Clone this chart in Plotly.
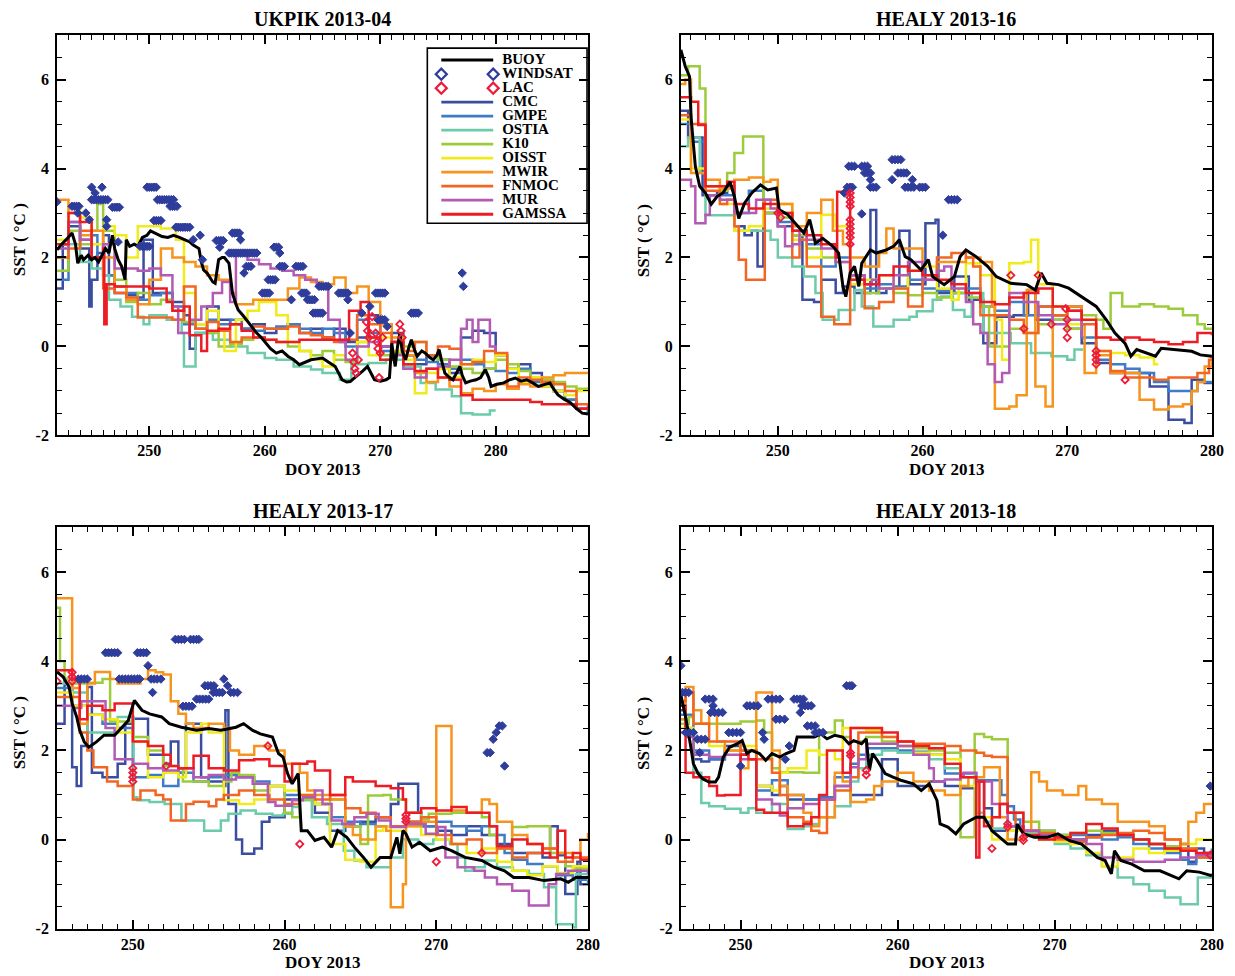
import plotly.graph_objects as go

# Positions below are given in reference pixels (1235x976). The html body adds an
# 8px margin and the captured page comes out ~1% smaller, so both are compensated.
REF_W, REF_H = 1235, 976
OFF = 8
SX, SY = 0.992, 0.990
FIG_W = round(REF_W / SX - 2 * OFF)
FIG_H = round(REF_H / SY - 2 * OFF)
FONT = "Liberation Serif"

SERIES = ["CMC", "GMPE", "OSTIA", "K10", "OISST", "MWIR", "FNMOC", "MUR", "GAMSSA"]
COLORS = {"BUOY": "#000000", "WINDSAT": "#2E3C9C", "LAC": "#EC1C3A",
          "CMC": "#3A4DA0", "GMPE": "#3F7BC6", "OSTIA": "#6CCBA8", "K10": "#9CCB3B",
          "OISST": "#F2EB1A", "MWIR": "#F7941D", "FNMOC": "#F26522", "MUR": "#B35AB5",
          "GAMSSA": "#ED1C24"}
Y_TICKS = [-2, 0, 2, 4, 6]
Y_TICKTEXT = ["-2", "0", "2", "4", "6"]
X_TICKS = [250, 260, 270, 280]

# ---------------- UKPIK 2013-04 ----------------
UKPIK_BUOY = [[242.0,2.17],[242.4,2.3],[242.8,2.4],[243.3,2.55],[243.6,2.3],[243.8,1.87],[244.1,2.05],[244.3,1.95],[244.7,2.05],[245.0,1.95],[245.3,2.0],[245.6,1.9],[245.9,2.05],[246.2,2.2],[246.5,2.1],[246.8,2.5],[247.0,2.2],[247.3,1.95],[247.6,1.8],[247.9,1.5],[248.0,2.4],[248.3,2.25],[248.7,2.3],[249.0,2.25],[249.4,2.45],[249.8,2.5],[250.1,2.6],[250.5,2.55],[251.1,2.47],[251.6,2.45],[252.1,2.5],[252.6,2.45],[253.1,2.4],[253.5,2.35],[253.8,2.28],[254.3,2.2],[254.5,1.9],[254.7,1.72],[255.0,1.65],[255.2,1.57],[255.5,1.45],[255.7,1.42],[256.0,1.95],[256.3,2.0],[256.5,2.0],[256.9,1.87],[257.2,1.2],[257.5,0.95],[257.7,0.82],[258.1,0.7],[258.4,0.6],[258.8,0.45],[259.3,0.3],[259.7,0.2],[260.1,0.07],[260.5,-0.05],[261.0,-0.15],[261.5,-0.1],[262.0,-0.22],[262.5,-0.3],[263.0,-0.41],[263.5,-0.35],[264.0,-0.3],[264.5,-0.28],[265.0,-0.26],[265.5,-0.35],[266.1,-0.45],[266.4,-0.6],[266.7,-0.75],[267.1,-0.8],[267.4,-0.79],[267.8,-0.7],[268.1,-0.64],[268.5,-0.55],[268.9,-0.45],[269.2,-0.6],[269.5,-0.75],[270.0,-0.78],[270.5,-0.75],[270.8,-0.7],[271.0,0.07],[271.2,-0.3],[271.3,-0.45],[271.5,0.0],[271.7,0.3],[271.9,-0.1],[272.2,-0.3],[272.5,0.0],[272.7,0.15],[273.0,-0.1],[273.2,-0.22],[273.6,-0.1],[273.9,-0.15],[274.3,-0.25],[274.6,-0.3],[274.9,-0.2],[275.1,-0.07],[275.3,-0.3],[275.6,-0.6],[276.0,-0.7],[276.3,-0.75],[276.6,-0.6],[276.9,-0.45],[277.1,-0.65],[277.4,-0.82],[277.8,-0.78],[278.3,-0.75],[278.7,-0.7],[279.1,-0.52],[279.4,-0.7],[279.6,-0.9],[280.1,-0.85],[280.7,-0.82],[281.2,-0.75],[281.7,-0.71],[282.2,-0.78],[282.7,-0.75],[283.2,-0.82],[283.7,-0.9],[284.2,-0.86],[284.7,-0.82],[285.0,-0.95],[285.4,-1.09],[285.9,-1.18],[286.5,-1.27],[287.0,-1.4],[287.5,-1.5],[288.0,-1.52]]
UKPIK_WINDSAT = [[242.0,3.25],[243.3,3.15],[243.5,3.15],[243.7,3.15],[243.9,3.15],[243.8,3.0],[244.5,3.0],[244.8,2.85],[245.0,3.58],[245.9,3.58],[245.3,3.45],[245.0,3.3],[245.2,3.3],[245.4,3.3],[245.6,3.3],[245.8,3.3],[246.0,3.3],[246.2,3.3],[246.4,3.3],[246.3,2.85],[246.3,2.7],[246.8,3.13],[247.0,3.13],[247.2,3.13],[247.4,3.13],[247.3,2.35],[249.2,2.25],[249.4,2.25],[249.6,2.25],[249.8,2.25],[250.0,2.25],[249.8,3.58],[250.0,3.58],[250.2,3.58],[250.4,3.58],[250.6,3.58],[250.4,2.83],[250.6,2.83],[250.8,2.83],[251.0,2.83],[250.7,3.3],[250.9,3.3],[251.1,3.3],[251.3,3.3],[251.5,3.3],[251.7,3.3],[251.9,3.3],[252.1,3.3],[251.8,3.15],[252.0,3.15],[252.2,3.15],[252.4,3.15],[252.3,2.68],[252.5,2.68],[252.7,2.68],[252.9,2.68],[253.1,2.68],[253.3,2.68],[253.5,2.68],[253.8,2.4],[254.4,2.5],[254.6,1.95],[255.8,2.38],[256.0,2.38],[256.2,2.38],[256.4,2.38],[256.1,2.23],[257.2,2.55],[257.4,2.55],[257.6,2.55],[257.8,2.55],[257.9,2.4],[256.9,2.1],[257.1,2.1],[257.3,2.1],[257.5,2.1],[257.7,2.1],[257.9,2.1],[258.1,2.1],[258.3,2.1],[258.5,2.1],[258.7,2.1],[258.9,2.1],[259.1,2.1],[259.3,2.1],[258.2,1.65],[258.4,1.8],[258.6,1.8],[258.8,1.8],[259.8,1.2],[260.0,1.2],[260.2,1.2],[260.4,1.2],[260.3,1.5],[260.5,1.5],[260.7,1.5],[260.9,1.5],[260.8,2.23],[261.0,2.23],[261.2,2.23],[261.3,2.1],[261.3,1.8],[261.5,1.8],[261.7,1.8],[262.3,1.05],[262.7,1.8],[262.9,1.8],[263.1,1.8],[263.3,1.8],[263.2,1.2],[263.4,1.2],[263.6,1.2],[263.7,1.05],[263.9,1.05],[264.1,1.05],[264.3,1.05],[264.7,1.35],[264.9,1.35],[265.1,1.35],[265.3,1.35],[265.5,1.35],[264.2,0.75],[264.4,0.75],[264.6,0.75],[264.8,0.75],[265.0,0.75],[266.4,1.2],[266.6,1.2],[266.8,1.2],[267.0,1.2],[267.2,1.2],[267.2,1.05],[267.4,0.3],[268.4,0.75],[269.1,0.9],[269.8,0.6],[270.0,0.6],[270.2,0.6],[270.4,0.6],[269.6,1.2],[269.8,1.2],[270.0,1.2],[270.2,1.2],[270.4,1.2],[270.6,0.45],[272.7,0.75],[272.9,0.75],[273.1,0.75],[273.3,0.75],[277.1,1.65],[277.2,1.35]]
UKPIK_LAC = [[267.6,-0.15],[267.7,-0.35],[267.8,-0.5],[267.9,-0.6],[268.1,-0.3],[268.8,0.55],[268.9,0.35],[269.0,0.2],[269.3,0.67],[269.6,0.3],[269.7,0.1],[269.8,-0.05],[270.0,-0.15],[269.9,-0.7],[270.2,0.2],[271.7,0.5],[271.8,0.35],[271.9,0.2]]
UKPIK_CMC = [[242,1.3],[242.5,2.3],[243,2.7],[244,2.2],[244.8,0.9],[245,1.5],[245.5,2.1],[246,2.5],[246.5,1.6],[247,1.2],[248,1.15],[249,1.1],[249.5,2.4],[250.3,1.2],[252,1.0],[253,0.7],[253.5,-0.05],[254,0.3],[255,0.9],[256,0.6],[257,0.5],[258,0.4],[259,0.5],[260,0.3],[261,0.4],[262,0.5],[263,0.3],[264,0.4],[265,0.2],[266,0.4],[267,0.1],[268,0.2],[269,0.7],[270,0.0],[271,0.3],[272,-0.2],[273,-0.4],[274,-0.2],[275,-0.3],[276,-0.6],[277,0.2],[278,0.35],[279,0.3],[280,-0.2],[281,-0.5],[282,-0.4],[283,-0.6],[284,-0.8],[285,-1.0],[286,-1.2],[287,-1.4],[288,-1.5]]
UKPIK_GMPE = [[242,1.5],[243,2.8],[244,2.4],[245,2.5],[245.5,2.0],[246,1.6],[247,1.35],[248,1.2],[249,1.05],[250,1.15],[251,1.2],[252,0.9],[253,0.5],[254,0.4],[255,0.6],[256,0.5],[257,0.6],[258,0.4],[259,0.35],[260,0.4],[261,0.45],[262,0.5],[263,0.4],[264,0.3],[265,0.4],[266,0.3],[267,0.0],[268,0.6],[269,0.3],[270,-0.1],[271,0.1],[272,-0.2],[273,-0.3],[274,-0.35],[275,-0.4],[276,-0.5],[277,-0.3],[278,-0.4],[279,-0.5],[280,-0.55],[281,-0.6],[282,-0.5],[283,-0.8],[284,-0.9],[285,-1.0],[286,-1.2],[287,-1.4],[288,-1.5]]
UKPIK_OSTIA = [[242,2.0],[243,2.3],[244,1.9],[245,1.75],[246,1.6],[246.5,1.05],[247.5,0.9],[248.5,0.67],[249.5,0.5],[250,0.7],[251.5,0.6],[252.8,0.3],[253.0,-0.45],[254.0,0.3],[255.5,0.15],[257,0.0],[258.5,-0.15],[260,-0.26],[261,-0.3],[262.5,-0.45],[264,-0.52],[265,-0.6],[266.5,-0.75],[267.5,-0.4],[269,-0.37],[270.5,-0.3],[272,-0.45],[273.5,-0.82],[274.8,-0.97],[276.2,-1.12],[277.0,-1.5],[278,-1.53],[279.5,-1.44],[280,-1.44]]
UKPIK_K10 = [[242,1.7],[243,2.6],[244,2.3],[245,2.6],[245.5,3.2],[246,2.6],[247,1.5],[248,1.0],[249,1.2],[250,0.95],[251,1.05],[252,0.8],[253,0.55],[254,0.5],[255,0.3],[256,0.0],[257,0.05],[258,0.15],[259,0.2],[260,0.15],[261,0.1],[262,0.0],[263,-0.1],[264,-0.2],[265,-0.1],[266,-0.3],[267,-0.35],[268,0.1],[269,0.2],[270,-0.2],[271,-0.15],[272,0.0],[273,0.1],[274,-0.2],[275,-0.3],[276,-0.45],[277,-0.5],[278,-0.6],[279,-0.5],[280,-0.3],[281,-0.4],[282,-0.55],[283,-0.7],[284,-0.75],[285,-0.8],[286,-0.9],[287,-0.95],[288,-0.95]]
UKPIK_OISST = [[242,2.4],[243,3.2],[244,2.9],[245,2.3],[246,2.7],[247,2.5],[248,2.0],[249,2.7],[250,2.7],[251,2.65],[252.3,2.4],[253,1.2],[254,0.5],[255,0.8],[256,0.4],[256.5,-0.1],[257.5,0.6],[258.5,0.8],[259.5,1.0],[261,0.7],[262,0.1],[263,-0.1],[264,-0.3],[265,-0.45],[266,-0.2],[267,-0.3],[268,0.1],[269,-0.2],[270,0.2],[271,-0.1],[272,-0.3],[273,-1.05],[274,-0.6],[275,-0.5],[276,-0.7],[277,-0.4],[278,-0.3],[279,-0.35],[280,-0.2],[281,-0.5],[282,-0.8],[283,-0.7],[284,-0.9],[285,-1.0],[286,-1.1],[287,-1.0],[288,-1.0]]
UKPIK_MWIR = [[242,3.3],[243,3.0],[244,2.5],[245,2.6],[246,2.0],[247,1.35],[248,1.05],[249,0.95],[250,1.5],[251,2.2],[252,2.0],[253,1.9],[254,1.8],[255,1.6],[256,1.5],[257,1.2],[257.5,0.95],[259,1.05],[260,1.05],[262,1.3],[263,1.55],[264,1.45],[265,1.4],[266,1.55],[267,1.2],[268,1.35],[269,1.0],[270,0.5],[271,0.2],[272,-0.2],[273,-0.6],[274,-0.8],[275,-0.7],[276,-0.9],[277,-1.05],[278,-0.95],[279,-1.0],[280,-0.85],[281,-0.95],[282,-0.85],[283,-0.9],[284,-0.7],[285,-0.65],[286,-0.6],[288,-0.6]]
UKPIK_FNMOC = [[242,2.0],[243,2.2],[244,2.6],[245,2.0],[246,1.3],[247,1.2],[248,1.1],[249,0.65],[250,0.65],[251,0.65],[252,0.6],[253,1.35],[254,0.4],[255,0.55],[256,0.35],[257,0.1],[258,0.2],[259,0.45],[260,0.4],[261,0.4],[262,0.45],[263,0.3],[264,0.25],[265,0.2],[266,0.1],[267,0.15],[268,0.7],[269,0.5],[270,0.3],[271,0.1],[272,-0.1],[273,0.1],[274,-0.2],[275,0.0],[276,-0.05],[277,-0.4],[278,-0.35],[279,-0.1],[280,-0.15],[281,-0.9],[282,-0.7],[283,-0.75],[284,-0.8],[285,-0.85],[286,-1.0],[287,-1.3],[288,-1.4]]
UKPIK_MUR = [[242,2.2],[243,2.8],[244,2.4],[245,2.0],[246,2.3],[247,1.75],[248,1.75],[249,1.7],[250,1.75],[251,1.6],[252,0.9],[252.5,0.3],[253.5,0.6],[254.5,0.9],[255.5,1.2],[256.3,1.45],[257,1.0],[257.5,2.1],[258.5,1.95],[259.5,1.85],[260.5,1.75],[261.5,1.7],[262.5,1.6],[263.5,1.5],[264.5,1.4],[265.5,0.6],[266.5,0.1],[267,-0.3],[268,0.0],[269,0.1],[270,0.0],[271,-0.2],[272,-0.5],[273,-0.7],[274,-0.5],[275,-0.45],[276,-0.3],[277,0.4],[277.5,0.6],[278,0.1],[278.5,0.6],[279.5,0.0],[280,-0.1]]
UKPIK_GAMSSA = [[242,2.3],[243,3.0],[244,2.8],[245,2.0],[246,2.2],[246.1,0.5],[246.3,1.4],[247,1.35],[248,1.35],[249,1.35],[250,1.3],[251.5,1.0],[252,0.8],[253,0.9],[253.5,0.25],[254.5,-0.1],[255,0.35],[256,0.4],[257,0.5],[258,0.35],[259,0.2],[260,0.15],[261,0.1],[262,0.1],[263,0.15],[264,0.15],[265,0.15],[266,0.15],[267.3,0.8],[268.3,1.0],[269,0.2],[270,-0.3],[271,0.1],[272,-0.4],[273,-0.55],[274,-0.5],[275,-0.7],[276,-0.75],[277,-1.1],[278,-1.2],[280,-1.2],[282,-1.2],[283,-1.25],[284,-1.3],[285.5,-1.3],[287,-1.4],[288,-1.35]]

# ---------------- HEALY 2013-16 ----------------
HEALY16_BUOY = [[243.3,6.67],[243.6,6.3],[243.9,6.07],[244.0,5.17],[244.3,4.05],[244.6,3.6],[245.0,3.45],[245.4,3.2],[245.8,3.37],[246.2,3.45],[246.7,3.7],[247.0,3.37],[247.3,2.88],[247.7,3.22],[248.2,3.45],[248.8,3.63],[249.3,3.52],[249.9,3.56],[250.1,3.07],[250.7,2.96],[251.2,2.77],[251.8,2.55],[252.2,2.85],[252.6,2.32],[253.1,2.43],[253.8,2.25],[254.2,2.1],[254.5,1.35],[254.7,1.12],[255.0,1.65],[255.3,1.8],[255.6,1.35],[255.8,1.87],[256.4,2.17],[256.8,2.1],[257.5,2.17],[258.0,2.25],[258.4,2.4],[258.8,2.02],[259.2,1.95],[259.9,1.72],[260.4,1.95],[260.7,1.57],[261.5,1.39],[262.2,1.57],[262.6,2.02],[263.0,2.17],[263.7,2.02],[264.5,1.8],[265.1,1.57],[266.1,1.42],[267.2,1.39],[267.8,1.27],[268.2,1.65],[268.6,1.42],[269.4,1.39],[270.1,1.31],[270.6,1.2],[271.3,1.05],[272.0,0.9],[272.7,0.6],[273.3,0.3],[274.0,0.07],[274.4,-0.22],[274.8,-0.07],[275.5,-0.15],[276.1,-0.22],[276.5,-0.04],[277.5,-0.07],[278.6,-0.11],[279.2,-0.19],[280.0,-0.22]]
HEALY16_WINDSAT = [[254.6,3.45],[254.8,3.58],[255.0,3.58],[255.15,3.58],[254.9,4.05],[255.1,4.05],[255.3,4.05],[255.8,2.98],[255.8,4.05],[256.0,4.05],[256.2,4.05],[256.0,3.9],[256.2,3.9],[256.4,3.9],[256.4,3.75],[256.4,3.58],[256.6,3.58],[256.8,3.58],[257.9,4.2],[258.1,4.2],[258.3,4.2],[258.5,4.2],[257.9,3.75],[258.3,3.9],[258.5,3.9],[258.7,3.9],[258.9,3.9],[259.3,3.75],[258.8,3.58],[259.0,3.58],[259.2,3.58],[259.4,3.58],[259.8,3.58],[260.0,3.58],[260.2,3.58],[261.4,2.5],[261.8,3.3],[262.0,3.3],[262.2,3.3],[262.4,3.3]]
HEALY16_LAC = [[255.0,3.45],[255.0,3.35],[255.0,3.25],[255.0,3.15],[255.0,2.85],[255.0,2.75],[255.0,2.65],[255.0,2.55],[255.0,2.45],[255.0,2.3],[250.0,3.0],[250.2,2.9],[266.1,1.6],[267.0,0.4],[268.0,1.6],[268.9,0.5],[269.9,0.85],[270.0,0.6],[270.0,0.4],[270.0,0.2],[272.0,-0.1],[272.0,-0.2],[272.0,-0.3],[272.0,-0.4],[274.0,-0.75]]
HEALY16_CMC = [[243.3,5.3],[243.8,4.7],[244.8,3.4],[245.8,3.45],[246.5,3.6],[247,2.7],[247.7,2.5],[248.2,2.6],[248.6,1.8],[249.0,3.0],[250,2.7],[251,2.5],[251.7,1.05],[252.5,1.0],[253,1.5],[254,1.2],[254.5,1.35],[255.3,1.2],[256.4,3.07],[256.8,1.2],[257.5,1.3],[258.4,2.6],[259.1,1.4],[260.2,2.77],[260.9,2.85],[261.1,1.2],[262.2,1.57],[263.2,1.05],[264.2,0.07],[265.1,0.67],[266.3,0.7],[267.3,1.27],[267.8,0.6],[269,0.7],[270,0.9],[271,0.07],[272,-0.37],[273,-0.6],[274,-0.6],[275.7,-0.9],[277,-1.65],[278.1,-1.72],[278.6,-0.75],[279.5,-0.82],[280,-0.82]]
HEALY16_GMPE = [[243.3,5.0],[244.0,4.6],[245.0,3.6],[246.0,3.4],[247.0,3.0],[248.0,3.5],[249.0,3.0],[250.0,2.8],[251.0,2.6],[252.0,2.3],[253.0,1.8],[254.0,2.0],[255.0,1.6],[256.0,1.3],[257.0,1.4],[258.0,1.35],[259.0,1.5],[260.0,1.3],[261.0,1.25],[262.0,1.2],[263.0,1.3],[264.0,0.9],[265.0,0.8],[266.0,1.0],[267.0,0.7],[268.0,0.9],[269.0,0.6],[270.0,0.4],[271.0,0.2],[272.0,-0.3],[273.0,-0.4],[274.0,-0.5],[275.0,-0.6],[276.0,-0.8],[277.0,-1.0],[278.0,-1.0],[279.0,-0.8],[280.0,-0.8]]
HEALY16_OSTIA = [[243.3,4.5],[243.8,4.7],[244.6,3.9],[245.0,2.95],[247.0,2.6],[248.5,2.6],[249.5,2.4],[250,2.0],[251,1.8],[251.8,1.57],[252.6,1.2],[253.1,0.6],[254.2,0.82],[255.3,1.27],[255.8,0.9],[256.6,0.45],[258,0.6],[259.1,0.67],[259.6,0.79],[260.7,1.05],[261.3,1.12],[262.1,0.82],[262.9,0.67],[263.4,1.2],[264.2,0.3],[266.1,0.07],[267.5,-0.15],[268.9,-0.22],[270,-0.3],[270.5,-0.07],[271,-0.1]]
HEALY16_K10 = [[243.3,6.1],[243.8,6.3],[244.6,5.8],[245.0,3.6],[246.0,3.5],[246.5,3.9],[247.0,4.35],[247.6,4.72],[249.0,3.0],[250.0,2.9],[251.0,2.5],[252.0,2.2],[253.0,2.0],[254.0,1.9],[255.0,1.5],[256.0,1.2],[257.0,1.3],[258.0,1.2],[259.0,1.15],[260.0,1.2],[261.0,1.1],[262.0,1.2],[263.0,1.1],[264.0,0.9],[264.6,0.0],[266.0,0.4],[267.0,0.3],[268.0,0.5],[269.0,0.6],[270.0,0.4],[271.0,0.7],[272.0,0.6],[272.5,0.4],[273.0,1.2],[273.8,0.9],[275.0,0.95],[276.0,0.9],[277.0,0.85],[278.0,0.7],[279.0,0.5],[279.5,0.4],[280.0,0.4]]
HEALY16_OISST = [[243.3,5.1],[244.0,4.0],[245.0,3.6],[246.0,3.2],[247.0,2.6],[248.0,2.7],[249.0,3.1],[250.0,3.2],[251.0,2.4],[252.0,2.0],[253.0,2.96],[254.0,2.7],[255.0,1.4],[256.0,1.5],[257.0,1.6],[258.0,1.3],[259.0,1.7],[260.0,1.8],[261.0,1.3],[262.0,1.05],[262.5,1.3],[263.0,1.87],[264.0,1.6],[265.0,0.6],[265.5,-0.3],[266.0,1.87],[267.0,1.9],[267.5,2.4],[268.0,1.4],[269.0,0.9],[270.0,0.5],[271.0,0.6],[272.0,-0.1],[273.0,-0.15],[274.0,-0.2],[275.0,-0.25],[276.0,-0.4],[276.3,-0.4]]
HEALY16_MWIR = [[243.3,5.9],[243.6,6.0],[244.0,3.9],[245.0,3.75],[246.0,3.55],[247.0,3.75],[248.0,3.8],[249.0,3.7],[249.5,3.75],[250.0,3.2],[251.0,2.7],[252.0,3.0],[253.0,3.3],[253.8,2.6],[254.5,2.3],[255.0,2.0],[256.0,1.8],[257.0,2.1],[257.5,2.65],[258.0,2.2],[259.0,2.2],[260.0,1.6],[261.0,1.9],[262.0,1.9],[263.0,2.0],[264.0,1.9],[264.8,0.9],[265.0,-1.4],[266.0,-1.35],[266.5,-1.1],[267.2,1.27],[267.8,-0.9],[268.5,-1.35],[269.0,0.7],[270.0,0.9],[271.0,0.5],[271.2,-0.6],[272.0,-0.2],[273.0,-0.6],[274.0,-0.6],[275.0,-1.2],[276.0,-1.42],[277.0,-1.35],[278.0,-1.3],[278.6,-1.0],[279.0,-0.8],[279.5,-0.45],[280.0,-0.3]]
HEALY16_FNMOC = [[243.3,5.2],[244.0,5.0],[245.0,3.5],[246.0,3.2],[246.5,3.3],[247.0,2.7],[247.3,1.95],[247.8,1.5],[249.1,3.3],[250.0,3.0],[251.0,2.0],[251.5,2.4],[252.0,1.8],[253.0,0.67],[253.9,0.5],[255.0,1.6],[256.0,0.86],[257.0,1.0],[258.0,1.3],[259.0,0.9],[260.0,1.5],[261.0,2.0],[262.0,2.1],[263.0,2.0],[263.5,1.8],[264.0,0.7],[265.0,0.7],[266.0,0.6],[267.0,0.3],[268.0,0.9],[269.0,0.7],[270.0,0.8],[271.0,0.5],[272.0,-0.1],[273.0,-0.55],[274.0,-0.7],[275.0,-0.7],[276.0,-0.75],[277.0,-0.7],[278.0,-0.7],[279.0,-0.6],[279.8,-0.3],[280.0,-0.2]]
HEALY16_MUR = [[243.3,3.75],[244.0,3.6],[244.3,2.77],[245.0,2.96],[245.3,3.4],[246.0,3.3],[247.0,3.0],[248.0,3.0],[248.5,3.3],[249.5,3.1],[250.0,2.7],[250.5,2.25],[251.0,2.3],[251.5,2.6],[252.0,2.4],[253.0,2.2],[254.0,1.9],[255.0,1.6],[256.0,1.4],[256.5,1.5],[257.0,1.3],[258.0,1.6],[259.0,1.9],[260.0,1.5],[261.0,1.7],[261.5,1.8],[262.0,1.3],[263.0,1.0],[263.5,0.5],[264.0,0.3],[264.5,-0.4],[265.0,-0.8],[265.5,-0.6],[266.0,1.2],[267.0,1.0],[268.0,0.7],[269.0,0.5],[270.0,0.6],[271.0,0.2]]
HEALY16_GAMSSA = [[243.3,5.6],[244.0,5.5],[244.5,4.98],[245.0,3.6],[246.0,3.6],[246.5,3.7],[247.0,3.2],[248.0,3.1],[249.0,3.2],[250.0,3.0],[251.0,2.6],[252.0,2.5],[253.0,2.3],[254.0,2.0],[254.1,3.48],[255.0,1.5],[256.0,1.4],[257.0,1.6],[258.0,1.8],[259.0,1.7],[260.0,1.6],[261.0,1.5],[262.0,1.4],[263.0,1.2],[264.0,1.0],[265.0,0.95],[266.0,1.1],[267.0,1.2],[268.0,1.3],[269.0,0.9],[270.0,0.8],[271.0,0.6],[272.0,0.2],[273.0,0.15],[274.0,0.2],[275.0,0.15],[276.0,0.1],[277.0,0.05],[278.0,0.1],[279.0,0.3],[280.0,0.25]]

# ---------------- HEALY 2013-17 ----------------
HEALY17_BUOY = [[245.0,3.76],[245.4,3.65],[245.8,3.42],[246.0,3.05],[246.3,2.75],[246.5,2.45],[246.8,2.19],[247.1,2.07],[247.6,2.19],[248.1,2.34],[248.8,2.34],[249.3,2.52],[249.7,2.67],[250.1,3.12],[250.6,2.9],[251.1,2.82],[251.9,2.75],[252.4,2.6],[253.2,2.52],[254.2,2.45],[255.0,2.49],[255.8,2.45],[256.8,2.52],[257.3,2.6],[257.9,2.45],[258.4,2.37],[259.2,2.3],[259.6,1.93],[259.9,1.85],[260.2,1.48],[260.5,1.25],[260.9,1.48],[261.1,0.2],[261.5,0.2],[262.0,-0.02],[262.6,0.05],[263.1,-0.17],[263.5,0.2],[264.1,0.05],[264.6,-0.17],[265.2,-0.4],[265.7,-0.62],[266.3,-0.4],[267.0,-0.4],[267.4,0.05],[267.6,-0.32],[267.8,0.2],[268.0,0.13],[268.4,-0.17],[268.9,-0.06],[269.6,-0.25],[270.4,-0.17],[271.0,-0.25],[271.9,-0.4],[273.0,-0.47],[273.8,-0.62],[274.5,-0.7],[275.1,-0.85],[276.1,-0.85],[277.1,-0.92],[278.2,-0.88],[278.7,-0.96],[279.2,-0.85],[280.0,-0.85]]
HEALY17_WINDSAT = [[246.4,3.6],[246.6,3.6],[246.8,3.6],[247.0,3.6],[248.2,4.19],[248.4,4.19],[248.6,4.19],[248.8,4.19],[249.0,4.19],[249.1,3.6],[249.3,3.6],[249.5,3.6],[249.7,3.6],[249.9,3.6],[250.1,3.6],[250.3,3.6],[250.45,3.6],[250.3,4.19],[250.5,4.19],[250.7,4.19],[250.9,4.19],[251.0,3.9],[251.2,3.6],[251.4,3.6],[251.6,3.6],[251.85,3.6],[251.3,3.3],[252.8,4.49],[253.0,4.49],[253.2,4.49],[253.4,4.49],[253.3,2.99],[253.5,2.99],[253.7,2.99],[253.9,2.99],[253.8,4.49],[254.0,4.49],[254.2,4.49],[254.35,4.49],[254.2,3.15],[254.4,3.15],[254.6,3.15],[254.8,3.15],[255.0,3.15],[254.75,3.45],[254.95,3.45],[255.15,3.45],[255.35,3.45],[255.3,3.3],[255.5,3.3],[255.7,3.3],[255.9,3.3],[256.0,3.6],[256.25,3.45],[256.45,3.3],[256.65,3.3],[256.9,3.3],[273.35,1.95],[273.55,1.95],[273.75,2.25],[273.95,2.4],[274.15,2.55],[274.35,2.55],[274.5,1.65]]
HEALY17_LAC = [[245.0,3.55],[246.0,3.75],[246.0,3.65],[246.0,3.55],[250.0,1.6],[250.0,1.5],[250.0,1.4],[250.0,1.3],[252.2,1.65],[258.9,2.1],[261.0,-0.1],[268.0,0.55],[268.0,0.47],[268.0,0.4],[270.0,-0.5],[273.0,-0.3]]
HEALY17_CMC = [[245,2.6],[245.5,3.6],[246.0,1.62],[246.3,1.2],[246.6,2.1],[247.0,3.42],[247.3,1.5],[248,1.4],[249,1.7],[249.5,2.6],[250,2.71],[251,1.9],[252,1.7],[252.5,2.2],[253,1.5],[253.5,2.6],[254.5,1.4],[255,1.3],[256,1.2],[256.1,2.9],[256.3,0.8],[256.8,0.0],[257.2,-0.32],[258,-0.2],[258.5,0.4],[259,0.5],[260,0.9],[261,0.9],[262,0.6],[263,0.2],[264,0.3],[265,0.4],[266,0.5],[267,0.8],[267.5,1.25],[268.8,0.6],[269,0.3],[270,0.2],[271,0.1],[272,0.3],[273,0.1],[274,-0.1],[275,-0.3],[276,-0.3],[277,-0.4],[277.5,0.3],[278,-0.35],[278.5,-1.22],[279.3,-0.5],[279.5,-1.0],[280,-1.0]]
HEALY17_GMPE = [[245,3.4],[246,3.0],[247,2.8],[248,2.6],[249,2.5],[250,1.4],[251,1.45],[252,1.2],[253,1.5],[254,1.3],[255,1.4],[256,1.45],[257,1.4],[258,1.3],[259,1.2],[260,1.0],[261,0.9],[262,0.8],[263,0.5],[264,0.4],[265,0.35],[266,0.3],[267,0.3],[268,0.4],[269,0.3],[270,0.4],[271,0.3],[272,0.2],[273,0.3],[274,0.1],[274.5,-0.3],[275,-0.45],[276,-0.55],[277,-0.6],[278,-0.8],[279,-0.9],[280,-1.0]]
HEALY17_OSTIA = [[245,3.5],[246,3.3],[247,2.4],[249,2.75],[250.05,0.95],[250.3,0.88],[251.1,0.84],[252.1,0.8],[253.2,0.43],[254.2,0.43],[254.7,0.2],[255.8,0.43],[256.3,0.58],[257.1,0.65],[258.1,0.58],[259.2,0.54],[259.9,0.58],[260.5,0.73],[261.0,0.88],[261.8,0.5],[262.8,0.35],[263.9,-0.25],[264.6,-0.47],[265.4,-0.62],[266.2,-0.62],[267.0,-0.4],[267.8,0.0],[268.8,-0.1],[269.8,0.0],[270.9,-0.1],[271.4,-0.4],[271.9,-0.7],[272.4,-0.62],[273.2,-0.47],[274.0,-0.62],[275.05,-0.7],[276.1,-0.77],[277.1,-1.07],[277.9,-1.9],[279.0,-1.97],[279.2,-0.77],[280,-0.92]]
HEALY17_K10 = [[245,5.2],[245.2,4.0],[245.5,3.6],[246,3.5],[247,3.52],[248,3.6],[248.5,2.65],[249,2.65],[250,2.3],[251,2.0],[252,1.65],[253,1.6],[253.3,1.3],[255,1.2],[256,1.3],[256.5,1.5],[257,1.45],[258,1.1],[259,1.2],[260,0.6],[260.5,0.5],[261,0.9],[262,0.8],[263,0.9],[264,0.3],[265,-0.1],[265.5,0.99],[266.5,1.0],[267,0.9],[268,0.6],[269,0.45],[269.5,0.58],[271,0.6],[272,0.6],[273,0.5],[273.5,0.1],[274,-0.2],[275,0.28],[276,0.3],[277,0.3],[277.5,-0.3],[278.5,-0.6],[279,-0.65],[280,-0.6]]
HEALY17_OISST = [[245,3.3],[246,3.0],[247,2.8],[248,2.7],[249,2.4],[250,2.2],[251,1.4],[252,1.5],[253,1.4],[253.5,2.4],[254.5,2.6],[255,2.4],[256,0.88],[257,0.8],[258,0.9],[259,1.2],[260,1.1],[261,1.0],[262,0.8],[263,-0.1],[264,-0.45],[265,-0.5],[266,0.2],[266.5,0.3],[267,0.2],[268,0.3],[269,0.1],[270,0.0],[271,-0.1],[272,-0.3],[273,-0.2],[274,-0.5],[275,-0.7],[276,-0.8],[277,-0.6],[278,-0.75],[279,-0.6],[280,-0.6]]
HEALY17_MWIR = [[245,5.41],[246.0,3.4],[246.5,2.6],[247,3.5],[247.5,3.76],[248.5,3.6],[249,3.5],[250.5,3.6],[251,3.8],[251.5,3.75],[252,3.7],[252.5,3.1],[253,2.82],[253.5,2.6],[254,2.5],[255,2.6],[256,2.5],[256.4,2.0],[257,1.9],[258,2.1],[259,2.0],[260,1.7],[261,1.5],[261.5,1.1],[262,1.0],[263,0.9],[264,0.3],[264.5,0.1],[265,0.0],[266,0.3],[266.7,0.2],[267.0,-1.52],[267.8,-1.0],[268,0.3],[269,0.4],[270,2.55],[271,0.65],[272,0.6],[273,0.9],[273.5,0.8],[274,0.4],[275,0.1],[276,-0.1],[277,-0.2],[278,-0.3],[279,-0.4],[279.5,0.0],[280,0.15]]
HEALY17_FNMOC = [[245,3.2],[246,3.2],[246.5,2.4],[247,2.0],[247.4,1.62],[248.3,1.3],[249,1.2],[250,0.9],[250.5,1.1],[251.5,1.0],[252,0.9],[252.5,0.43],[253.5,0.8],[254,0.85],[255,0.75],[255.5,0.9],[256,1.0],[257,1.1],[258,1.0],[259,0.9],[260,0.8],[261,1.0],[262,0.9],[263,1.0],[264,0.7],[265,0.6],[266,0.5],[267,0.3],[268,0.4],[269,0.5],[270,0.1],[271,-0.1],[272,0.0],[273,-0.3],[274,-0.2],[275,-0.4],[276,-0.3],[277,-0.2],[278,-0.5],[279,-0.4],[280,-0.5]]
HEALY17_MUR = [[245,3.0],[246,2.95],[246.6,3.1],[247.5,3.1],[248.2,2.5],[248.8,1.8],[250,1.7],[251,1.6],[252,1.55],[253,1.6],[254,1.4],[255,1.45],[256,1.35],[256.8,1.4],[257.9,1.25],[258.9,0.84],[259.4,0.76],[260.5,0.88],[261.2,0.95],[262.0,1.1],[262.5,0.8],[263.1,0.43],[263.8,0.35],[264.6,0.5],[265.4,0.58],[266.2,0.43],[267.0,0.28],[268.0,0.35],[269.3,0.13],[270.1,0.28],[270.6,-0.4],[271.4,-0.62],[272.5,-0.7],[273.2,-0.85],[274.0,-1.0],[275.0,-1.15],[276.1,-1.48],[276.9,-1.48],[277.4,-1.0],[277.9,-0.77],[278.7,-0.7],[280,-0.77]]
HEALY17_GAMSSA = [[245,3.8],[246,3.6],[246.5,2.7],[247,3.0],[248,2.9],[248.8,3.05],[250,2.2],[251,2.1],[252,1.9],[252.5,1.65],[253,1.6],[254,1.88],[255,1.6],[256,1.55],[257,1.78],[258,1.8],[259,1.65],[260,1.3],[260.5,1.7],[261.5,1.75],[262,1.55],[263,1.0],[264,1.4],[264.5,1.3],[265,1.3],[266,1.2],[267,1.15],[267.8,0.9],[268,0.6],[269,0.7],[270,0.65],[271,0.73],[272,0.6],[273,0.6],[273.5,0.3],[274,-0.15],[275,0.0],[276,-0.1],[277,-0.3],[277.5,-0.4],[278,0.2],[278.5,-0.4],[279,-0.3],[279.5,-0.45],[280,-0.45]]

# ---------------- HEALY 2013-18 ----------------
HEALY18_BUOY = [[246.2,3.24],[246.5,2.75],[246.8,2.15],[247.0,1.7],[247.3,1.48],[247.6,1.36],[248.0,1.29],[248.4,1.29],[248.6,1.4],[248.9,1.85],[249.3,2.07],[249.8,2.15],[250.1,2.22],[250.4,1.93],[250.7,2.0],[251.2,1.93],[251.6,1.78],[252.0,1.93],[252.5,1.85],[252.9,1.93],[253.4,2.0],[253.6,2.3],[254.1,2.3],[254.7,2.3],[255.1,2.37],[255.5,2.26],[256.0,2.34],[256.5,2.3],[256.9,2.15],[257.2,2.22],[257.7,2.15],[258.0,2.26],[258.2,1.55],[258.4,1.93],[258.7,1.78],[259.2,1.48],[259.7,1.4],[260.2,1.33],[261.0,1.25],[261.5,1.1],[262.0,1.25],[262.5,0.88],[262.7,0.35],[263.2,0.28],[263.7,0.13],[264.2,0.35],[265.0,0.5],[265.5,0.5],[266.0,0.2],[266.5,0.05],[267.0,-0.1],[267.5,-0.1],[267.6,0.35],[268.0,0.13],[268.7,0.05],[269.5,0.05],[270.2,0.13],[270.9,-0.02],[271.7,-0.1],[272.2,-0.25],[272.7,-0.4],[273.2,-0.47],[273.6,-0.77],[273.8,-0.25],[274.2,-0.47],[274.9,-0.55],[275.7,-0.7],[276.7,-0.7],[277.4,-0.81],[277.9,-0.88],[278.4,-0.7],[279.2,-0.73],[280.0,-0.81]]
HEALY18_WINDSAT = [[246.2,3.9],[246.3,3.3],[246.5,3.3],[246.7,3.3],[246.5,2.4],[246.75,2.4],[247.0,2.4],[247.25,2.25],[247.5,2.25],[247.75,2.25],[247.4,1.95],[247.75,3.15],[248.0,3.15],[248.25,3.15],[248.25,3.0],[248.1,2.85],[248.35,2.85],[248.6,2.85],[248.85,2.85],[249.25,2.4],[249.5,2.4],[249.75,2.4],[250.0,2.4],[250.0,1.65],[250.4,3.0],[250.6,3.0],[250.85,3.0],[251.1,3.0],[251.4,2.4],[251.5,2.25],[251.75,3.15],[252.0,3.15],[252.25,3.15],[252.5,3.15],[252.25,2.7],[252.5,2.7],[252.8,2.7],[252.85,1.8],[253.1,2.1],[253.4,3.15],[253.6,3.15],[253.8,3.15],[254.0,3.15],[253.9,3.0],[254.1,3.0],[254.3,3.0],[254.5,3.0],[253.8,2.85],[254.25,2.55],[254.5,2.55],[254.75,2.55],[254.75,2.4],[255.0,2.4],[255.25,2.4],[256.75,3.45],[256.95,3.45],[257.1,3.45],[279.9,1.2]]
HEALY18_LAC = [[257.0,1.95],[257.0,1.88],[258.0,1.55],[258.0,1.45],[266.0,-0.2],[267.0,0.35],[267.0,0.28],[268.0,0.05],[268.0,-0.02],[279.9,-0.35]]
HEALY18_CMC = [[246.2,2.9],[246.5,2.4],[247,1.8],[247.5,1.75],[248,1.8],[249,2.1],[250,1.9],[250.5,2.0],[251,1.2],[252,1.0],[252.5,1.2],[253,0.9],[254,0.9],[255,0.9],[256,1.2],[257,1.0],[258,1.0],[259,1.8],[260,1.2],[261,1.2],[262,1.3],[263,1.2],[264,1.15],[265,1.3],[265.5,0.7],[266,0.2],[267,0.3],[268,0.2],[269,0.1],[270,0.05],[271,0.0],[272,0.1],[273,0.2],[274,0.1],[275,0.0],[276,-0.1],[277,-0.2],[278,-0.1],[278.5,-0.5],[279,-0.2],[279.5,-0.3],[280,-0.3]]
HEALY18_GMPE = [[246.2,2.8],[247,2.0],[248,1.8],[249,2.0],[250,2.0],[251,1.1],[252,1.33],[253,1.0],[254,0.9],[255,0.95],[256,1.4],[257,1.7],[257.5,1.9],[258,2.05],[260,2.0],[261,1.97],[262,1.9],[263,1.48],[264,1.48],[265,1.33],[266.2,1.33],[266.6,1.0],[267.0,0.75],[267.4,0.45],[267.8,0.2],[268.2,0.1],[269,0.2],[270,0.1],[271,0.1],[272,0.05],[273,0.0],[274,0.05],[275,-0.1],[276,-0.2],[277,-0.3],[278,-0.45],[278.5,-0.55],[279,-0.4],[280,-0.2]]
HEALY18_OSTIA = [[246.2,2.7],[246.6,2.5],[247,1.5],[247.5,0.82],[248,0.75],[249,0.69],[250,0.6],[250.5,0.7],[251,0.6],[252,0.8],[253,0.24],[254,0.3],[254.5,0.35],[255,0.5],[256,0.75],[257,1.3],[257.5,1.6],[258,1.9],[259,2.0],[260,1.95],[261,1.9],[262,1.8],[263,1.6],[264,1.4],[265,0.6],[265.5,0.4],[266,0.25],[267,0.2],[268,0.15],[269,0.05],[270,-0.1],[271,-0.2],[272,-0.35],[273,-0.6],[274,-0.85],[275,-1.0],[276,-1.15],[277,-1.3],[278,-1.45],[278.9,-1.45],[279.1,-0.85],[280,-0.75]]
HEALY18_K10 = [[246.2,2.6],[246.7,2.75],[247,2.6],[250,2.65],[251,2.67],[251.5,2.4],[252,1.6],[252.5,1.51],[254,1.5],[255,2.4],[256,2.67],[256.5,2.3],[257,2.2],[258,2.3],[259,2.2],[260,2.1],[261,2.05],[262,2.0],[263,1.95],[264,0.05],[264.9,2.37],[265.5,2.3],[266,2.25],[267,0.6],[268,0.4],[269,0.2],[270,0.1],[271,0.15],[272,0.2],[273,0.15],[274,0.1],[275,0.0],[276,-0.1],[277,-0.15],[278,-0.2],[279,-0.4],[280,-0.3]]
HEALY18_OISST = [[246.2,2.5],[247,2.2],[248,2.1],[249,2.0],[250,2.1],[251,1.2],[252,1.1],[252.5,1.5],[253,1.6],[254.2,2.0],[255,1.9],[255.5,2.0],[256,1.8],[256.5,2.5],[258,2.45],[259,2.3],[260,2.1],[261,1.95],[262,1.9],[263,1.8],[264,1.2],[265,0.5],[266,0.0],[267,0.2],[268,0.1],[269,0.0],[270,-0.05],[271,-0.1],[272,-0.3],[273,-0.6],[274,-0.4],[275,-0.2],[276,-0.3],[277,-0.25],[278,-0.1],[279,0.0],[280,0.0]]
HEALY18_MWIR = [[246.2,2.7],[246.5,3.42],[247,2.9],[247.5,2.6],[248,2.85],[248.5,2.2],[249,2.0],[250,1.6],[250.5,1.8],[251,3.3],[252,2.0],[252.5,1.2],[253,1.0],[254,0.6],[254.5,0.3],[255,0.5],[256,1.5],[256.5,1.3],[257,0.84],[258,0.9],[258.5,1.2],[259,1.3],[260,1.5],[261,1.3],[262,1.1],[263,1.0],[264,1.2],[264.5,1.4],[265.5,1.62],[266.5,0.5],[267,0.0],[268,0.2],[268.5,1.51],[269,1.3],[269.5,1.1],[270.5,1.0],[271.5,1.2],[272,0.9],[273,0.8],[274,0.4],[275,0.4],[276,0.3],[277,0.0],[278,-0.1],[278.5,0.4],[279,0.6],[279.5,0.8],[280,0.8]]
HEALY18_FNMOC = [[246.2,3.1],[246.5,3.3],[247,2.6],[248,2.2],[249,2.2],[250,2.0],[251,1.8],[252,1.5],[252.5,1.0],[253,0.5],[254,0.4],[254.5,0.2],[255,0.15],[255.5,0.9],[256,1.1],[257,1.4],[257.5,2.4],[258,2.4],[259,2.3],[260,2.2],[261,2.15],[262,2.15],[263,2.1],[264,2.0],[265,1.95],[265.5,1.88],[266,1.85],[267,0.6],[267.5,0.3],[268,0.2],[269,0.15],[270,0.0],[271,-0.05],[272,0.05],[273,0.1],[274,0.15],[275,0.2],[276,0.15],[277,0.0],[278,-0.2],[279,-0.4],[280,-0.35]]
HEALY18_MUR = [[246.2,2.4],[246.6,2.3],[247,1.9],[248,1.85],[249,1.9],[250,1.8],[251,0.9],[252,0.8],[252.5,0.54],[253,0.7],[254,0.8],[255,0.9],[256,1.2],[257,1.62],[257.5,1.8],[258,2.15],[260,2.1],[261,1.9],[262,1.6],[262.3,1.3],[263,1.35],[264,1.45],[264.2,1.5],[265,1.3],[266,0.8],[267,0.3],[268,0.2],[269,0.1],[270,0.05],[271,0.0],[272,-0.1],[273,-0.4],[274,-0.45],[275,-0.5],[276,-0.5],[277,-0.45],[278,-0.4],[279,-0.35],[280,-0.4]]
HEALY18_GAMSSA = [[246.2,3.0],[246.5,1.5],[247,1.4],[248,1.2],[248.5,0.99],[249,1.0],[250,1.9],[250.5,1.8],[251,0.67],[251.5,0.6],[252,0.6],[253,0.3],[254,0.35],[254.5,0.5],[255,1.0],[255.5,2.0],[256,2.0],[256.5,1.5],[257,2.5],[258,2.5],[259,2.4],[260,2.2],[261,2.1],[262,2.05],[263,1.7],[264,1.4],[265,-0.4],[265.2,1.3],[265.5,0.3],[266,0.5],[266.5,0.8],[267,0.6],[268,0.1],[269,0.0],[270,0.05],[271,0.15],[272,0.35],[273,0.25],[274,0.1],[275,0.0],[276,-0.1],[277,-0.2],[278,-0.25],[279,-0.3],[280,-0.25]]

PANELS = [
    dict(title="UKPIK 2013-04", xr=[242, 288], buoy=UKPIK_BUOY, windsat=UKPIK_WINDSAT, lac=UKPIK_LAC,
         prod=dict(CMC=UKPIK_CMC, GMPE=UKPIK_GMPE, OSTIA=UKPIK_OSTIA, K10=UKPIK_K10, OISST=UKPIK_OISST,
                   MWIR=UKPIK_MWIR, FNMOC=UKPIK_FNMOC, MUR=UKPIK_MUR, GAMSSA=UKPIK_GAMSSA)),
    dict(title="HEALY 2013-16", xr=[243.3, 280], buoy=HEALY16_BUOY, windsat=HEALY16_WINDSAT, lac=HEALY16_LAC,
         prod=dict(CMC=HEALY16_CMC, GMPE=HEALY16_GMPE, OSTIA=HEALY16_OSTIA, K10=HEALY16_K10, OISST=HEALY16_OISST,
                   MWIR=HEALY16_MWIR, FNMOC=HEALY16_FNMOC, MUR=HEALY16_MUR, GAMSSA=HEALY16_GAMSSA)),
    dict(title="HEALY 2013-17", xr=[245, 280], buoy=HEALY17_BUOY, windsat=HEALY17_WINDSAT, lac=HEALY17_LAC,
         prod=dict(CMC=HEALY17_CMC, GMPE=HEALY17_GMPE, OSTIA=HEALY17_OSTIA, K10=HEALY17_K10, OISST=HEALY17_OISST,
                   MWIR=HEALY17_MWIR, FNMOC=HEALY17_FNMOC, MUR=HEALY17_MUR, GAMSSA=HEALY17_GAMSSA)),
    dict(title="HEALY 2013-18", xr=[246.2, 280], buoy=HEALY18_BUOY, windsat=HEALY18_WINDSAT, lac=HEALY18_LAC,
         prod=dict(CMC=HEALY18_CMC, GMPE=HEALY18_GMPE, OSTIA=HEALY18_OSTIA, K10=HEALY18_K10, OISST=HEALY18_OISST,
                   MWIR=HEALY18_MWIR, FNMOC=HEALY18_FNMOC, MUR=HEALY18_MUR, GAMSSA=HEALY18_GAMSSA)),
]

# pixel boxes (reference pixels) of the four plot frames: (left, right, top, bottom)
BOXES = [(57, 589, 35, 435), (682, 1214, 35, 435), (57, 589, 527, 928), (682, 1214, 527, 928)]


def px(x):
    return (x / SX - OFF) / FIG_W


def py(y):
    return 1 - (y / SY - OFF) / FIG_H


def xs(pts):
    return [p[0] for p in pts]


def ys(pts):
    return [p[1] for p in pts]


fig = go.Figure()
annotations = []
layout = {}

for k, (panel, box) in enumerate(zip(PANELS, BOXES), start=1):
    xa = "x" if k == 1 else f"x{k}"
    ya = "y" if k == 1 else f"y{k}"
    for name in SERIES:
        pts = panel["prod"][name]
        fig.add_trace(go.Scatter(x=xs(pts), y=ys(pts), mode="lines", line_shape="hv",
                                 line=dict(color=COLORS[name], width=2.5), xaxis=xa, yaxis=ya,
                                 showlegend=False, hoverinfo="skip"))
    fig.add_trace(go.Scatter(x=xs(panel["buoy"]), y=ys(panel["buoy"]), mode="lines",
                             line=dict(color=COLORS["BUOY"], width=3), xaxis=xa, yaxis=ya,
                             showlegend=False, hoverinfo="skip"))
    fig.add_trace(go.Scatter(x=xs(panel["windsat"]), y=ys(panel["windsat"]), mode="markers",
                             marker=dict(symbol="diamond", size=6.5, color=COLORS["WINDSAT"],
                                         line=dict(width=1, color=COLORS["WINDSAT"])),
                             xaxis=xa, yaxis=ya, showlegend=False, hoverinfo="skip", cliponaxis=True))
    fig.add_trace(go.Scatter(x=xs(panel["lac"]), y=ys(panel["lac"]), mode="markers",
                             marker=dict(symbol="diamond-open", size=5.5, color=COLORS["LAC"],
                                         line=dict(width=1.8, color=COLORS["LAC"])),
                             xaxis=xa, yaxis=ya, showlegend=False, hoverinfo="skip", cliponaxis=True))

    l, r, t, b = box
    tickfont = dict(family=FONT, size=16, color="black", weight="bold")
    axis_common = dict(showline=True, linecolor="black", linewidth=1.8, mirror="ticks",
                       ticks="inside", tickcolor="black", tickwidth=1.5, ticklen=9,
                       showgrid=False, zeroline=False, tickfont=tickfont, fixedrange=True)
    layout["xaxis" if k == 1 else f"xaxis{k}"] = dict(
        axis_common, domain=[px(l), px(r)], range=panel["xr"], anchor=ya,
        tickvals=X_TICKS, ticklabelstandoff=0,
        minor=dict(dtick=1, tick0=250, ticks="inside", ticklen=5, tickwidth=1.2, tickcolor="black"))
    layout["yaxis" if k == 1 else f"yaxis{k}"] = dict(
        axis_common, domain=[py(b), py(t)], range=[-2, 7], anchor=xa,
        tickvals=Y_TICKS, ticktext=Y_TICKTEXT, ticklabelstandoff=3,
        minor=dict(dtick=0.5, tick0=0, ticks="inside", ticklen=5, tickwidth=1.2, tickcolor="black"))

    cx = (l + r) / 2
    annotations.append(dict(text="<b>" + panel["title"] + "</b>", x=px(cx), y=py(t - 16),
                            xref="paper", yref="paper", showarrow=False, xanchor="center", yanchor="middle",
                            font=dict(family=FONT, size=20, color="black")))
    annotations.append(dict(text="<b>DOY 2013</b>", x=px(cx), y=py(b + 34),
                            xref="paper", yref="paper", showarrow=False, xanchor="center", yanchor="middle",
                            font=dict(family=FONT, size=17, color="black")))
    annotations.append(dict(text="<b>SST ( °C )</b>", x=px(l - 38), y=py((t + b) / 2 + 5),
                            xref="paper", yref="paper", showarrow=False, xanchor="center", yanchor="middle",
                            textangle=-90, font=dict(family=FONT, size=17, color="black")))

# ---------------- custom legend (inset in first panel) ----------------
LEG_ITEMS = ["BUOY", "WINDSAT", "LAC"] + SERIES
LEG_L, LEG_R, LEG_T, LEG_B = 428, 588, 48, 223
for i, name in enumerate(LEG_ITEMS):
    yy = 12 + 14 * i
    if name in ("WINDSAT", "LAC"):
        fig.add_trace(go.Scatter(x=[14, 66], y=[yy, yy], mode="markers", xaxis="x5", yaxis="y5",
                                 marker=dict(symbol="diamond-open", size=8.5, color=COLORS[name],
                                             line=dict(width=2.2, color=COLORS[name])),
                                 showlegend=False, hoverinfo="skip"))
    else:
        fig.add_trace(go.Scatter(x=[14, 66], y=[yy, yy], mode="lines", xaxis="x5", yaxis="y5",
                                 line=dict(color=COLORS[name], width=3 if name == "BUOY" else 2.8),
                                 showlegend=False, hoverinfo="skip"))
    fig.add_trace(go.Scatter(x=[75], y=[yy], mode="text", text=["<b>" + name + "</b>"],
                             textposition="middle right", xaxis="x5", yaxis="y5",
                             textfont=dict(family=FONT, size=15, color="black"),
                             showlegend=False, hoverinfo="skip", cliponaxis=False))

layout["xaxis5"] = dict(domain=[px(LEG_L), px(LEG_R)], range=[0, LEG_R - LEG_L], visible=False,
                        anchor="y5", fixedrange=True)
layout["yaxis5"] = dict(domain=[py(LEG_B), py(LEG_T)], range=[LEG_B - LEG_T, 0], visible=False,
                        anchor="x5", fixedrange=True)

shapes = [dict(type="rect", xref="paper", yref="paper", x0=px(LEG_L), x1=px(LEG_R),
               y0=py(LEG_B), y1=py(LEG_T), line=dict(color="black", width=1.6), layer="above")]

fig.update_layout(width=FIG_W, height=FIG_H, margin=dict(l=0, r=0, t=0, b=0),
                  paper_bgcolor="white", plot_bgcolor="rgba(0,0,0,0)",
                  showlegend=False, annotations=annotations, shapes=shapes, **layout)

fig.write_html("out.html")
